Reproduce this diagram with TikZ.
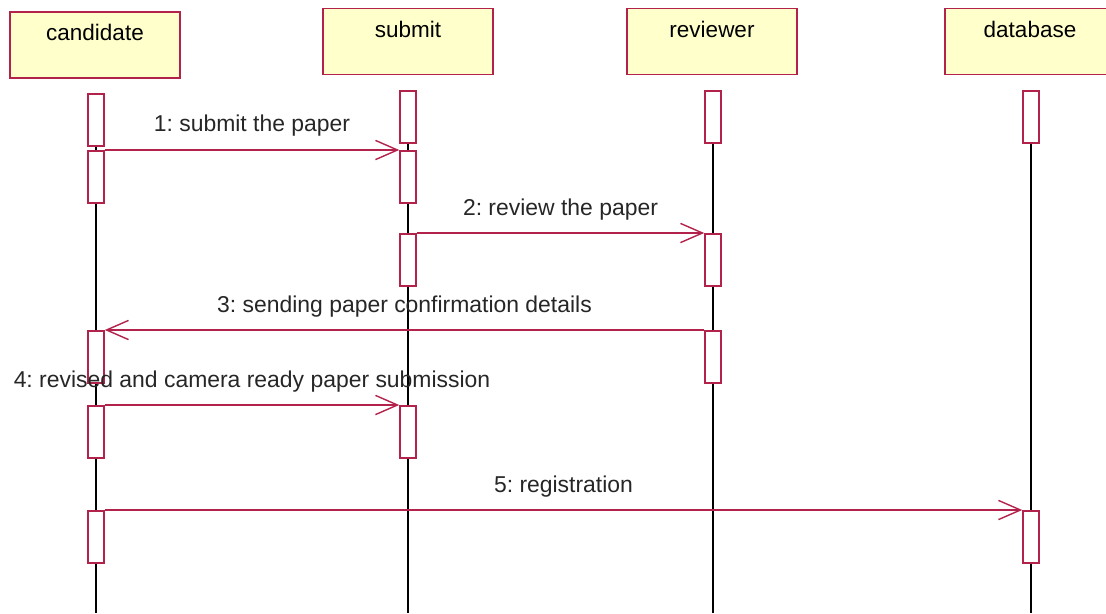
\documentclass[tikz,border=0pt]{standalone}
\usepackage{fontspec}
\setmainfont{Liberation Sans}
\usepackage{xcolor}
\usepackage{tikz}
\usetikzlibrary{arrows.meta,backgrounds}
\definecolor{umlred}{RGB}{178,34,74}
\definecolor{umlyellow}{RGB}{255,255,204}
\frenchspacing

\begin{document}
\begin{tikzpicture}[x=0.025cm,y=-0.025cm,
  head/.style={draw=umlred,fill=umlyellow,line width=1.1pt,minimum width=4.25cm,
    inner ysep=0pt,text height=0.72cm,text depth=0.93cm,font=\fontsize{16}{19}\selectfont},
  act/.style={draw=umlred,fill=white,line width=1.1pt,minimum width=0.4cm,
    minimum height=1.3cm,inner sep=0pt,anchor=north},
  msg/.style={umlred,line width=1pt,-{Straight Barb[length=0.55cm,width=0.48cm,line width=1pt]}},
  txt/.style={midway,anchor=base,yshift=0.45cm,text=black!85,font=\fontsize{16.3}{19}\selectfont},
  life/.style={black,line width=1pt}]
\useasboundingbox (0,0) rectangle (1106,613);
% objects
\node[head] (cand) at (95,45) {candidate};
\node[head] (subm) at (408,41.5) {submit};
\node[head] (revw) at (712,41.5) {reviewer};
\node[head] (dbase) at (1030,41.5) {database};
% activations
\node[act] (c1) at (96,93) {};
\node[act] (c2) at (96,150) {};
\node[act] (c3) at (96,330) {};
\node[act] (c4) at (96,405) {};
\node[act] (c5) at (96,510) {};
\node[act] (s1) at (408,90) {};
\node[act] (s2) at (408,150) {};
\node[act] (s3) at (408,233) {};
\node[act] (s4) at (408,405) {};
\node[act] (r1) at (713,90) {};
\node[act] (r2) at (713,233) {};
\node[act] (r3) at (713,330) {};
\node[act] (d1) at (1031,90) {};
\node[act] (d2) at (1031,510) {};
% lifelines
\coordinate (cend) at (96,613);
\coordinate (send) at (408,613);
\coordinate (rend) at (713,613);
\coordinate (dend) at (1031,613);
\begin{scope}[on background layer]
\draw[life] (c1.north)--(cend);
\draw[life] (s1.north)--(send);
\draw[life] (r1.north)--(rend);
\draw[life] (d1.north)--(dend);
\end{scope}
% messages
\draw[msg] (c2.north east)--(s2.north west) node[txt]{1: submit the paper};
\draw[msg] (s3.north east)--(r2.north west) node[txt]{2: review the paper};
\draw[msg] (r3.north west)--(c3.north east) node[txt]{3: sending paper confirmation details};
\draw[msg] (c4.north east)--(s4.north west) node[txt]{4: revised and camera ready paper submission};
\draw[msg] (c5.north east)--(d2.north west) node[txt]{5: registration};
\end{tikzpicture}
\end{document}
